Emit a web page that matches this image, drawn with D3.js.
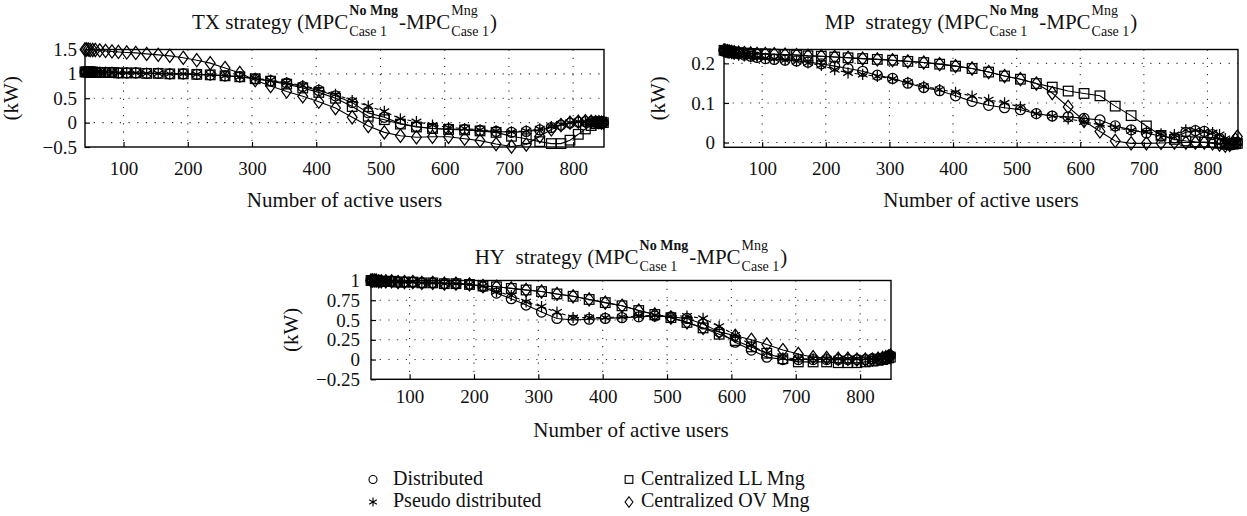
<!DOCTYPE html>
<html>
<head>
<meta charset="utf-8">
<script src="https://cdn.jsdelivr.net/npm/d3@7"></script>
<style>
  body { margin: 0; background: #fff; }
  svg text { font-family: "Liberation Serif", "Times New Roman", serif; fill: #111; }
</style>
</head>
<body>
<svg id="chart" width="1247" height="516"></svg>
<script>
// number of active users (x positions of the markers)
const users = [40, 42, 45, 48, 52, 56, 63, 72, 82, 92,
  105, 119, 136, 154, 172, 193, 214, 235, 258, 281,
  305, 329, 354, 379, 404, 430, 456, 481, 506, 531,
  556, 581, 606, 631, 655, 680, 704, 727, 748, 766,
  781, 795, 808, 819, 828, 835, 840, 844, 847];

const seriesNames = ['Distributed', 'Pseudo distributed', 'Centralized LL Mng', 'Centralized OV Mng'];
const xTicks = [100, 200, 300, 400, 500, 600, 700, 800];
const txYTicks = [-0.5, 0, 0.5, 1, 1.5];
const mpYTicks = [0, 0.1, 0.2];
const hyYTicks = [-0.25, 0, 0.25, 0.5, 0.75, 1];

// TX strategy
const txDistributed = [1.04, 1.04, 1.04, 1.04, 1.04, 1.03, 1.03, 1.03, 1.03, 1.02,
  1.02, 1.02, 1.01, 1.01, 1.00, 1.00, 0.99, 0.98, 0.96, 0.94,
  0.90, 0.86, 0.81, 0.74, 0.66, 0.55, 0.41, 0.20, 0.11, -0.02,
  -0.08, -0.12, -0.13, -0.14, -0.16, -0.18, -0.20, -0.18, -0.15, -0.10,
  -0.05, -0.01, 0.01, 0.02, 0.02, 0.02, 0.01, 0.01, 0.00];
const txPseudo = [1.04, 1.04, 1.04, 1.04, 1.04, 1.03, 1.03, 1.03, 1.03, 1.02,
  1.02, 1.02, 1.01, 1.01, 1.00, 1.00, 0.99, 0.98, 0.96, 0.94,
  0.91, 0.87, 0.82, 0.76, 0.68, 0.58, 0.45, 0.34, 0.23, 0.08,
  0.02, -0.05, -0.10, -0.12, -0.15, -0.17, -0.19, -0.17, -0.13, -0.08,
  -0.03, 0.00, 0.02, 0.02, 0.02, 0.02, 0.01, 0.01, 0.00];
const txLL = [1.04, 1.04, 1.04, 1.04, 1.04, 1.03, 1.03, 1.03, 1.03, 1.02,
  1.02, 1.02, 1.01, 1.01, 1.00, 1.00, 0.99, 0.98, 0.96, 0.94,
  0.90, 0.85, 0.79, 0.71, 0.62, 0.50, 0.33, 0.13, 0.06, -0.03,
  -0.09, -0.12, -0.14, -0.15, -0.17, -0.20, -0.28, -0.33, -0.39, -0.43,
  -0.43, -0.36, -0.24, -0.13, -0.06, -0.02, 0.00, 0.01, 0.00];
const txOV = [1.50, 1.50, 1.50, 1.49, 1.49, 1.49, 1.48, 1.47, 1.46, 1.45,
  1.44, 1.43, 1.41, 1.39, 1.37, 1.33, 1.28, 1.22, 1.12, 1.02,
  0.87, 0.75, 0.64, 0.54, 0.43, 0.30, 0.11, -0.07, -0.20, -0.27,
  -0.30, -0.29, -0.29, -0.33, -0.37, -0.44, -0.49, -0.45, -0.28, -0.14,
  -0.05, 0.00, 0.02, 0.03, 0.02, 0.01, 0.01, 0.00, 0.00];

// MP strategy
const mpDistributed = [0.233, 0.232, 0.231, 0.230, 0.228, 0.226, 0.224, 0.221, 0.218, 0.215,
  0.212, 0.210, 0.208, 0.206, 0.203, 0.199, 0.193, 0.187, 0.180, 0.170,
  0.162, 0.150, 0.139, 0.131, 0.118, 0.104, 0.094, 0.088, 0.083, 0.073,
  0.067, 0.065, 0.061, 0.057, 0.042, 0.032, 0.024, 0.016, 0.012, 0.026,
  0.030, 0.028, 0.020, 0.010, 0.000, -0.006, -0.004, 0.000, 0.000];
const mpPseudo = [0.232, 0.231, 0.229, 0.227, 0.225, 0.223, 0.221, 0.219, 0.217, 0.215,
  0.213, 0.211, 0.208, 0.205, 0.201, 0.195, 0.184, 0.176, 0.172, 0.167,
  0.161, 0.152, 0.142, 0.134, 0.127, 0.117, 0.108, 0.100, 0.090, 0.073,
  0.067, 0.060, 0.052, 0.045, 0.038, 0.030, 0.027, 0.022, 0.020, 0.032,
  0.031, 0.028, 0.025, 0.020, 0.010, 0.000, -0.005, 0.000, 0.002];
const mpLL = [0.233, 0.232, 0.231, 0.230, 0.229, 0.228, 0.227, 0.226, 0.225, 0.224,
  0.224, 0.223, 0.222, 0.221, 0.219, 0.218, 0.216, 0.214, 0.212, 0.210,
  0.208, 0.205, 0.202, 0.198, 0.193, 0.187, 0.178, 0.168, 0.160, 0.149,
  0.140, 0.130, 0.124, 0.118, 0.092, 0.068, 0.042, 0.018, 0.008, 0.004,
  0.002, 0.001, 0.000, -0.002, -0.004, -0.005, -0.004, -0.003, -0.002];
const mpOV = [0.233, 0.232, 0.231, 0.230, 0.229, 0.228, 0.227, 0.226, 0.225, 0.224,
  0.224, 0.223, 0.222, 0.221, 0.219, 0.218, 0.216, 0.214, 0.212, 0.210,
  0.208, 0.205, 0.202, 0.198, 0.193, 0.187, 0.178, 0.168, 0.160, 0.149,
  0.125, 0.090, 0.055, 0.028, 0.004, -0.002, -0.002, -0.001, 0.000, 0.000,
  0.000, 0.000, -0.002, -0.005, -0.008, -0.006, 0.000, 0.008, 0.015];

// HY strategy
const hyDistributed = [1.00, 1.00, 1.00, 1.00, 0.99, 0.99, 0.99, 0.99, 0.98, 0.98,
  0.98, 0.97, 0.97, 0.96, 0.96, 0.95, 0.92, 0.84, 0.77, 0.69,
  0.60, 0.52, 0.50, 0.51, 0.52, 0.53, 0.54, 0.55, 0.54, 0.52,
  0.45, 0.35, 0.22, 0.12, 0.03, 0.00, 0.00, 0.00, 0.00, 0.00,
  0.00, 0.00, 0.00, 0.01, 0.01, 0.02, 0.03, 0.04, 0.05];
const hyPseudo = [1.00, 1.00, 1.00, 1.00, 0.99, 0.99, 0.99, 0.99, 0.98, 0.98,
  0.98, 0.97, 0.97, 0.96, 0.96, 0.95, 0.93, 0.86, 0.81, 0.73,
  0.67, 0.60, 0.53, 0.53, 0.53, 0.54, 0.55, 0.56, 0.55, 0.55,
  0.52, 0.42, 0.31, 0.18, 0.08, 0.02, 0.01, 0.01, 0.01, 0.01,
  0.01, 0.01, 0.01, 0.01, 0.02, 0.02, 0.03, 0.04, 0.05];
const hyLL = [1.00, 1.00, 1.00, 1.00, 0.99, 0.99, 0.99, 0.99, 0.98, 0.98,
  0.98, 0.97, 0.97, 0.96, 0.96, 0.95, 0.93, 0.92, 0.90, 0.88,
  0.86, 0.83, 0.80, 0.76, 0.72, 0.68, 0.62, 0.57, 0.53, 0.47,
  0.40, 0.32, 0.24, 0.16, 0.08, 0.01, -0.03, -0.03, -0.03, -0.04,
  -0.04, -0.04, -0.03, -0.02, -0.01, 0.00, 0.01, 0.02, 0.03];
const hyOV = [1.00, 1.00, 1.00, 1.00, 0.99, 0.99, 0.99, 0.99, 0.98, 0.98,
  0.98, 0.97, 0.97, 0.96, 0.96, 0.95, 0.93, 0.92, 0.90, 0.88,
  0.86, 0.83, 0.80, 0.76, 0.72, 0.68, 0.62, 0.57, 0.53, 0.47,
  0.40, 0.35, 0.30, 0.25, 0.19, 0.12, 0.07, 0.03, 0.02, 0.01,
  0.01, 0.00, 0.00, 0.00, 0.01, 0.02, 0.03, 0.04, 0.05];

const svg = d3.select('#chart');
const fmt = d => (d < 0 ? '\u2212' : '') + String(Math.abs(d));

// marker shapes, drawn around (0,0)
const markers = {
  circle: g => g.append('circle').attr('r', 5),
  star: g => g.append('path').attr('d', 'M0,-5.6V5.6M-4.85,-2.8L4.85,2.8M-4.85,2.8L4.85,-2.8'),
  square: g => g.append('rect').attr('x', -4.8).attr('y', -4.8).attr('width', 9.6).attr('height', 9.6),
  diamond: g => g.append('path').attr('d', 'M0,-6.6L4.9,0L0,6.6L-4.9,0Z')
};
const markerKeys = ['circle', 'star', 'square', 'diamond'];

function drawTitle(cx, y, label) {
  const g = svg.append('g');
  const w = t => t.node().getComputedTextLength();
  let x = 0;
  const t1 = g.append('text').attr('x', x).attr('y', y).style('font-size', '21px').text(label + ' strategy (MPC');
  x += w(t1) + 1;
  const s1 = g.append('text').attr('x', x).attr('y', y - 14).style('font-size', '14px').style('font-weight', 'bold').text('No Mng');
  const b1 = g.append('text').attr('x', x).attr('y', y + 7).style('font-size', '14px').text('Case 1');
  x += Math.max(w(s1), w(b1)) + 1;
  const t2 = g.append('text').attr('x', x).attr('y', y).style('font-size', '21px').text('-MPC');
  x += w(t2) + 1;
  const s2 = g.append('text').attr('x', x).attr('y', y - 14).style('font-size', '14px').text('Mng');
  const b2 = g.append('text').attr('x', x).attr('y', y + 7).style('font-size', '14px').text('Case 1');
  x += Math.max(w(s2), w(b2)) + 1;
  const t3 = g.append('text').attr('x', x).attr('y', y).style('font-size', '21px').text(')');
  x += w(t3);
  g.attr('transform', `translate(${cx - x / 2},0)`);
}

function drawPanel(p) {
  const x = d3.scaleLinear().domain([40, 848]).range([p.left, p.right]);
  const y = d3.scaleLinear().domain(p.yDomain).range([p.bottom, p.top]);
  const g = svg.append('g');

  // dotted grid
  g.selectAll('.vgrid').data(xTicks).enter().append('line')
    .attr('x1', d => x(d)).attr('x2', d => x(d))
    .attr('y1', p.top).attr('y2', p.bottom)
    .attr('stroke', '#333').attr('stroke-width', 1.1).attr('stroke-dasharray', '1.2,7');
  g.selectAll('.hgrid').data(p.yTicks.filter(d => y(d) > p.top + 2 && y(d) < p.bottom - 2)).enter().append('line')
    .attr('x1', p.left).attr('x2', p.right)
    .attr('y1', d => y(d)).attr('y2', d => y(d))
    .attr('stroke', '#333').attr('stroke-width', 1.1).attr('stroke-dasharray', '1.2,7.5');

  // axes
  const xa = g.append('g').attr('transform', `translate(0,${p.bottom})`)
    .call(d3.axisBottom(x).tickValues(xTicks).tickSizeInner(-5).tickSizeOuter(0).tickPadding(p.xPad));
  const ya = g.append('g').attr('transform', `translate(${p.left},0)`)
    .call(d3.axisLeft(y).tickValues(p.yTicks).tickFormat(fmt).tickSizeInner(-5).tickSizeOuter(0).tickPadding(p.yPad));
  [xa, ya].forEach(a => {
    a.select('.domain').remove();
    a.selectAll('line').attr('stroke', '#000').attr('stroke-width', 1.2);
    a.selectAll('text').style('font-size', '19px').attr('fill', '#111');
  });

  g.append('rect').attr('x', p.left).attr('y', p.top)
    .attr('width', p.right - p.left).attr('height', p.bottom - p.top)
    .attr('fill', 'none').attr('stroke', '#000').attr('stroke-width', 1.4);

  // series lines, then markers
  p.series.forEach((vals, si) => {
    const line = d3.line().x((d, i) => x(users[i])).y(d => y(d));
    g.append('path').datum(vals).attr('d', line)
      .attr('fill', 'none').attr('stroke', '#000').attr('stroke-width', 1.1)
      .attr('stroke-dasharray', si === 1 ? '4,3' : null);
  });
  p.series.forEach((vals, si) => {
    g.selectAll('.m' + si).data(vals).enter().append('g')
      .attr('transform', (d, i) => `translate(${x(users[i])},${y(d)})`)
      .each(function () { markers[markerKeys[si]](d3.select(this)); })
      .selectAll('*').attr('fill', 'none').attr('stroke', '#000').attr('stroke-width', 1.25);
  });

  g.append('text').attr('x', (p.left + p.right) / 2).attr('y', p.xLabelY)
    .attr('text-anchor', 'middle').style('font-size', '21px').text('Number of active users');
  g.append('text').attr('transform', `translate(${p.kwX},${(p.top + p.bottom) / 2}) rotate(-90)`)
    .attr('text-anchor', 'middle').style('font-size', '21px').text('(kW)');
  drawTitle((p.left + p.right) / 2, p.titleY, p.label);
}

drawPanel({ label: 'TX', left: 85, right: 604, top: 49.5, bottom: 147, yDomain: [-0.5, 1.5], yTicks: txYTicks,
  xPad: 15, yPad: 8, xLabelY: 207, kwX: 18, titleY: 29, series: [txDistributed, txPseudo, txLL, txOV] });
drawPanel({ label: 'MP\u00a0', left: 724, right: 1238, top: 49.5, bottom: 147.3, yDomain: [-0.012, 0.235], yTicks: mpYTicks,
  xPad: 14, yPad: 9, xLabelY: 207, kwX: 665, titleY: 29, series: [mpDistributed, mpPseudo, mpLL, mpOV] });
drawPanel({ label: 'HY\u00a0', left: 371, right: 891, top: 280.5, bottom: 379.3, yDomain: [-0.25, 1], yTicks: hyYTicks,
  xPad: 10, yPad: 11, xLabelY: 437, kwX: 298, titleY: 264, series: [hyDistributed, hyPseudo, hyLL, hyOV] });

// legend
const legendItems = seriesNames.map((name, i) => ({ name, key: markerKeys[i],
  x: i < 2 ? 373 : 629, y: i % 2 === 0 ? 479.5 : 502 }));
const lg = svg.append('g');
legendItems.forEach(it => {
  const m = lg.append('g').attr('transform', `translate(${it.x},${it.y}) scale(0.8)`);
  markers[it.key](m);
  m.selectAll('*').attr('fill', 'none').attr('stroke', '#000').attr('stroke-width', 1.4);
  lg.append('text').attr('x', it.x + (it.x < 500 ? 20 : 12)).attr('y', it.y + 5)
    .style('font-size', '20px').text(it.name);
});
</script>
</body>
</html>
